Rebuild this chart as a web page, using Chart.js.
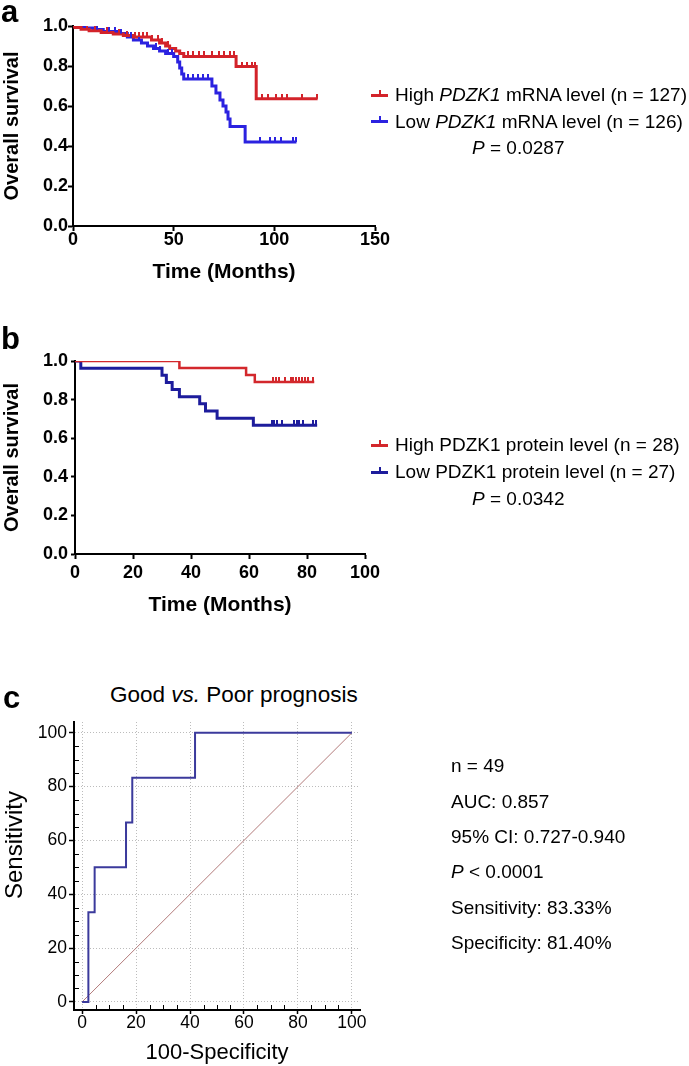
<!DOCTYPE html>
<html>
<head>
<meta charset="utf-8">
<script src="https://cdn.jsdelivr.net/npm/chart.js@4.4.0/dist/chart.umd.min.js"></script>
<style>
  body { margin: 0; width: 689px; height: 1066px; position: relative; background: #fff; overflow: hidden;
         font-family: "Liberation Sans", Arial, sans-serif; color: #000; }
  canvas { position: absolute; left: 0; }
  .t { position: absolute; white-space: nowrap; font-size: 19px; line-height: 22px; }
  .lab { position: absolute; font-weight: bold; font-size: 31px; line-height: 31px; }
  .mk { position: absolute; width: 17px; height: 3px; }
  .mk::after { content: ''; position: absolute; left: 8px; top: -4px; width: 1.5px; height: 4px; background: inherit; }
  .ytitle { position: absolute; white-space: nowrap; font-size: 24px; line-height: 26px; transform: translate(-50%, -50%) rotate(-90deg); }
</style>
</head>
<body>
<canvas id="kmA" width="689" height="285" style="top:0"></canvas>
<canvas id="kmB" width="689" height="318" style="top:300px"></canvas>
<canvas id="roc" width="689" height="356" style="top:710px"></canvas>

<div class="lab" style="left:1px;top:-4px">a</div>
<div class="lab" style="left:1px;top:323px">b</div>
<div class="lab" style="left:3px;top:682px">c</div>

<!-- legend a -->
<div class="mk" style="left:371px;top:93.5px;background:#d3232a"></div>
<div class="t" style="left:395px;top:84px">High <i>PDZK1</i> mRNA level (n = 127)</div>
<div class="mk" style="left:371px;top:120px;background:#2b22e0"></div>
<div class="t" style="left:395px;top:110.5px">Low <i>PDZK1</i> mRNA level (n = 126)</div>
<div class="t" style="left:472px;top:137px"><i>P</i> = 0.0287</div>

<!-- legend b -->
<div class="mk" style="left:371px;top:443.5px;background:#d3282c"></div>
<div class="t" style="left:395px;top:434px">High PDZK1 protein level (n = 28)</div>
<div class="mk" style="left:371px;top:470.5px;background:#1d1c9c"></div>
<div class="t" style="left:395px;top:461px">Low PDZK1 protein level (n = 27)</div>
<div class="t" style="left:472px;top:488px"><i>P</i> = 0.0342</div>

<!-- panel c title, axis title and stats -->
<div class="t" style="left:110px;top:682px;font-size:22.5px;line-height:26px">Good <i>vs.</i> Poor prognosis</div>
<div class="ytitle" style="left:14px;top:845px">Sensitivity</div>
<div class="t" style="left:451px;top:755px">n = 49</div>
<div class="t" style="left:451px;top:790.5px">AUC: 0.857</div>
<div class="t" style="left:451px;top:826px">95% CI: 0.727-0.940</div>
<div class="t" style="left:451px;top:861px"><i>P</i> &lt; 0.0001</div>
<div class="t" style="left:451px;top:896.5px">Sensitivity: 83.33%</div>
<div class="t" style="left:451px;top:932px">Specificity: 81.40%</div>

<script>
// panel a: PDZK1 mRNA (Kaplan-Meier)
const monthsHighA = [0, 1, 4, 8, 14, 20, 25, 30, 39, 43, 46, 48, 51, 53, 55, 81, 91, 121.5];
const survHighA = [1.0, 0.992, 0.984, 0.976, 0.968, 0.96, 0.952, 0.945, 0.93, 0.915, 0.9, 0.888, 0.875, 0.862, 0.848, 0.797, 0.636, 0.636];
const censorHighA = [3, 7, 11, 17, 23, 27, 31, 33, 35, 37, 39, 42, 44, 47, 57, 59.5, 62.6, 65.2, 69.2, 72.5, 75, 78, 80,
  83.8, 86.3, 88.8, 90.4, 93.7, 97, 100.8, 103.7, 106.2, 113.6, 121];
const monthsLowA = [0, 5, 10, 15, 22, 27, 30, 34, 37, 40, 43, 46, 50, 52, 53, 54, 55, 69, 71, 73, 74.5, 76, 77, 78, 85.5, 111];
const survLowA = [1.0, 0.99, 0.982, 0.972, 0.962, 0.945, 0.93, 0.915, 0.9, 0.888, 0.875, 0.862, 0.848, 0.82, 0.79, 0.76,
  0.735, 0.7, 0.665, 0.63, 0.6, 0.57, 0.535, 0.497, 0.42, 0.42];
const censorLowA = [2, 3.5, 6, 12, 18, 21, 24, 29, 33, 41, 43, 47.4, 49, 57, 59.8, 62.3, 64.7, 67.2,
  92.9, 97.9, 100.3, 103.2, 109.4, 110.6];

// panel b: PDZK1 protein
const monthsHighB = [0, 36, 59, 62, 82.5];
const survHighB = [1, 0.964, 0.928, 0.891, 0.891];
const censorHighB = [68.4, 69.3, 70.2, 72.4, 74.5, 75.3, 76.2, 77.1, 78.2, 79.3, 80.5, 82];
const monthsLowB = [0, 2, 30, 31.5, 33.5, 36, 43, 45, 49, 61.5, 83.5];
const survLowB = [1, 0.963, 0.926, 0.889, 0.852, 0.815, 0.778, 0.741, 0.704, 0.667, 0.667];
const censorLowB = [67.8, 68.7, 69.8, 71.3, 75.5, 76.4, 77.3, 78.5, 82.2, 83];

// panel c: ROC
const rocFpr = [0, 2.33, 4.65, 16.28, 18.60, 41.86, 100];
const rocTpr = [0, 33.33, 50, 66.67, 83.33, 100, 100];
const refLine = [0, 100];
const rocTicks = [0, 20, 40, 60, 80, 100];

Chart.defaults.font.family = '"Liberation Sans", Arial, sans-serif';
Chart.defaults.color = '#000';

function survAt(times, surv, t) {
  let k = 0;
  for (let i = 0; i < times.length; i++) if (times[i] <= t) k = i;
  return surv[k];
}

// small upward tick used as the censor mark
function censorMark(color, h) {
  const c = document.createElement('canvas');
  c.width = 2; c.height = h * 2;
  const g = c.getContext('2d');
  g.fillStyle = color;
  g.fillRect(0, 0, 2, h);
  return c;
}

function kmChart(id, o) {
  const sets = [];
  o.groups.forEach(gr => {
    sets.push({
      data: gr.censor.map(t => ({x: t, y: survAt(gr.t, gr.s, t)})),
      showLine: false, pointStyle: censorMark(gr.color, o.tick), pointRadius: 3, order: 0
    });
  });
  o.groups.forEach(gr => {
    sets.push({
      data: gr.t.map((t, i) => ({x: t, y: gr.s[i]})),
      stepped: true, borderColor: gr.color, borderWidth: gr.width, pointRadius: 0, fill: false, order: 1
    });
  });
  return new Chart(document.getElementById(id), {
    type: 'line',
    data: {datasets: sets},
    options: {
      responsive: false, animation: false, events: [],
      layout: {padding: o.padding},
      plugins: {legend: {display: false}, tooltip: {enabled: false}},
      scales: {
        x: {
          type: 'linear', min: 0, max: o.xMax,
          ticks: {stepSize: o.xStep, padding: o.xPad, font: {size: 18, weight: 'bold', lineHeight: 1}},
          grid: {drawOnChartArea: false, tickLength: 5, tickWidth: 2, tickColor: '#000'},
          border: {color: '#000', width: 2},
          title: {display: true, text: 'Time (Months)', font: {size: 21, weight: 'bold'}, padding: 0},
          afterFit: s => { s.height = o.xH; }
        },
        y: {
          min: 0, max: 1,
          ticks: {stepSize: 0.2, padding: o.yPad, font: {size: 18, weight: 'bold', lineHeight: 1}, callback: v => v.toFixed(1)},
          grid: {drawOnChartArea: false, tickLength: o.yTl, tickWidth: 2, tickColor: '#000'},
          border: {color: '#000', width: 2},
          title: {display: true, text: 'Overall survival', font: {size: 20, weight: 'bold'}, padding: 0},
          afterFit: s => { s.width = o.yW; }
        }
      }
    }
  });
}

kmChart('kmA', {
  xMax: 150, xStep: 50, xPad: 0, yPad: 0, yTl: 5, xH: 59, yW: 73, tick: 5,
  padding: {top: 26, right: 314, left: 0, bottom: 0},
  groups: [
    {t: monthsHighA, s: survHighA, censor: censorHighA, color: '#d3232a', width: 3},
    {t: monthsLowA, s: survLowA, censor: censorLowA, color: '#2b22e0', width: 3}
  ]
});

kmChart('kmB', {
  xMax: 100, xStep: 20, xPad: 5, yPad: 3, yTl: 4, xH: 64, yW: 75, tick: 5,
  padding: {top: 61, right: 324, left: 0, bottom: 0},
  groups: [
    {t: monthsHighB, s: survHighB, censor: censorHighB, color: '#d3282c', width: 2.5},
    {t: monthsLowB, s: survLowB, censor: censorLowB, color: '#1d1c9c', width: 3}
  ]
});

const minorTicks = {
  id: 'minorTicks',
  afterDraw(chart) {
    const {ctx, chartArea: a, scales: {x, y}} = chart;
    ctx.save();
    ctx.strokeStyle = '#000';
    ctx.lineWidth = 1;
    ctx.beginPath();
    for (let v = 0; v <= 100; v += 5) {
      if (v % 20 === 0) continue;
      const px = Math.round(x.getPixelForValue(v)) + 0.5;
      const py = Math.round(y.getPixelForValue(v)) + 0.5;
      ctx.moveTo(px, a.bottom); ctx.lineTo(px, a.bottom - 5);
      ctx.moveTo(a.left, py); ctx.lineTo(a.left + 5, py);
    }
    ctx.stroke();
    ctx.restore();
  }
};

const gridC = {color: '#bcbcbc', lineWidth: 1, tickColor: '#000', tickWidth: 1.5};

new Chart(document.getElementById('roc'), {
  type: 'line',
  data: {
    datasets: [
      {data: rocFpr.map((v, i) => ({x: v, y: rocTpr[i]})), stepped: true, borderColor: '#3b3a9c', borderWidth: 2, pointRadius: 0},
      {data: refLine.map(v => ({x: v, y: v})), borderColor: '#b27a7a', borderWidth: 1, pointRadius: 0}
    ]
  },
  plugins: [minorTicks],
  options: {
    responsive: false, animation: false, events: [],
    layout: {padding: {top: 12, right: 329, left: 0, bottom: 0}},
    plugins: {legend: {display: false}, tooltip: {enabled: false}},
    scales: {
      x: {
        type: 'linear', min: -3, max: 103,
        afterBuildTicks: s => { s.ticks = rocTicks.map(v => ({value: v})); },
        ticks: {padding: 0, font: {size: 17.5, lineHeight: 1}},
        grid: Object.assign({tickLength: 4}, gridC),
        border: {color: '#000', width: 2, dash: [1, 2]},
        title: {display: true, text: '100-Specificity', font: {size: 22}, padding: 0},
        afterFit: s => { s.height = 56; }
      },
      y: {
        min: -3, max: 104,
        afterBuildTicks: s => { s.ticks = rocTicks.map(v => ({value: v})); },
        ticks: {padding: 2, font: {size: 17.5, lineHeight: 1}},
        grid: Object.assign({tickLength: 5}, gridC),
        border: {color: '#000', width: 2, dash: [1, 2]},
        afterFit: s => { s.width = 74; }
      }
    }
  }
});
</script>
</body>
</html>
